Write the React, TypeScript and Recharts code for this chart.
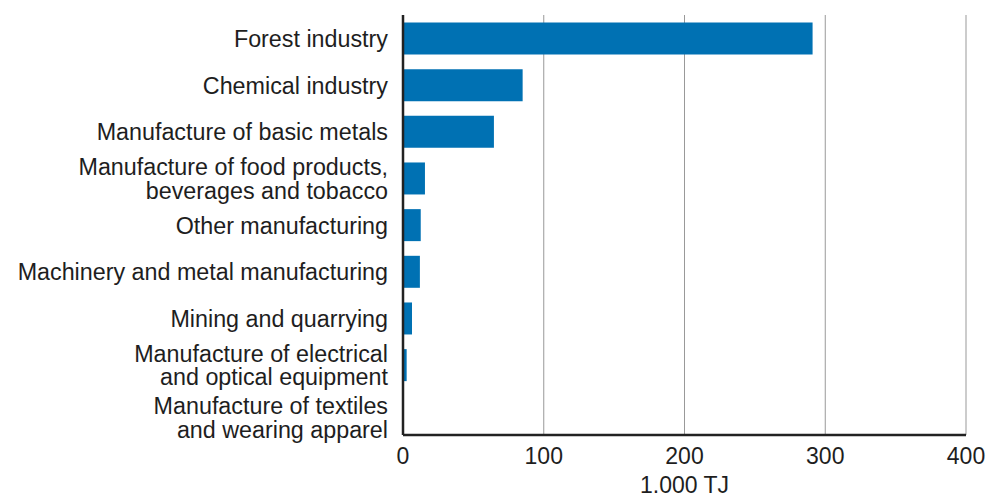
import { BarChart, Bar, XAxis, YAxis, CartesianGrid, Label } from "recharts";

const categories = [
  "Forest industry",
  "Chemical industry",
  "Manufacture of basic metals",
  "Manufacture of food products,\nbeverages and tobacco",
  "Other manufacturing",
  "Machinery and metal manufacturing",
  "Mining and quarrying",
  "Manufacture of electrical\nand optical equipment",
  "Manufacture of textiles\nand wearing apparel",
];

const values = [291, 85, 64.6, 15.6, 12.6, 12, 6.4, 2.6, 0.3];

const xTicks = [0, 100, 200, 300, 400];

const data = categories.map((name, i) => ({ name, value: values[i] }));

const FONT = "'Liberation Sans', Arial, Helvetica, sans-serif";
const TEXT = "#1e1e1e";

function CategoryTick({ x, y, payload }: any) {
  const lines = String(payload.value).split("\n");
  const lh = 23.5;
  // last label sits a little lower so it clears the one above
  const shift = payload.index === categories.length - 1 ? 6 : 0;
  const start = -((lines.length - 1) * lh) / 2 + shift;
  return (
    <text
      x={x}
      y={y}
      textAnchor="end"
      fill={TEXT}
      fontSize={23.3}
      fontFamily={FONT}
    >
      {lines.map((l, i) => (
        <tspan key={i} x={x} dy={i === 0 ? start + 8.5 : lh}>
          {l}
        </tspan>
      ))}
    </text>
  );
}

export default function App() {
  return (
    <div style={{ position: "absolute", left: 0, top: 0, background: "#fff" }}>
      <BarChart
        width={990}
        height={497}
        data={data}
        layout="vertical"
        margin={{ top: 15, right: 24, bottom: 0, left: 0 }}
        barCategoryGap="16%"
      >
        <CartesianGrid horizontal={false} stroke="#999" strokeWidth={1} />
        <XAxis
          type="number"
          domain={[0, 400]}
          ticks={xTicks}
          height={62}
          tickLine={false}
          tickMargin={7}
          axisLine={{ stroke: "#222", strokeWidth: 2.5 }}
          tick={{ fill: TEXT, fontSize: 23, fontFamily: FONT }}
        >
          <Label
            value="1.000 TJ"
            position="insideBottom"
            offset={4}
            fill={TEXT}
            fontSize={23}
            fontFamily={FONT}
          />
        </XAxis>
        <YAxis
          type="category"
          dataKey="name"
          width={403}
          tickLine={false}
          tickMargin={9}
          interval={0}
          axisLine={{ stroke: "#222", strokeWidth: 2.5 }}
          tick={<CategoryTick />}
        />
        <Bar dataKey="value" fill="#0071b3" isAnimationActive={false} />
      </BarChart>
    </div>
  );
}
